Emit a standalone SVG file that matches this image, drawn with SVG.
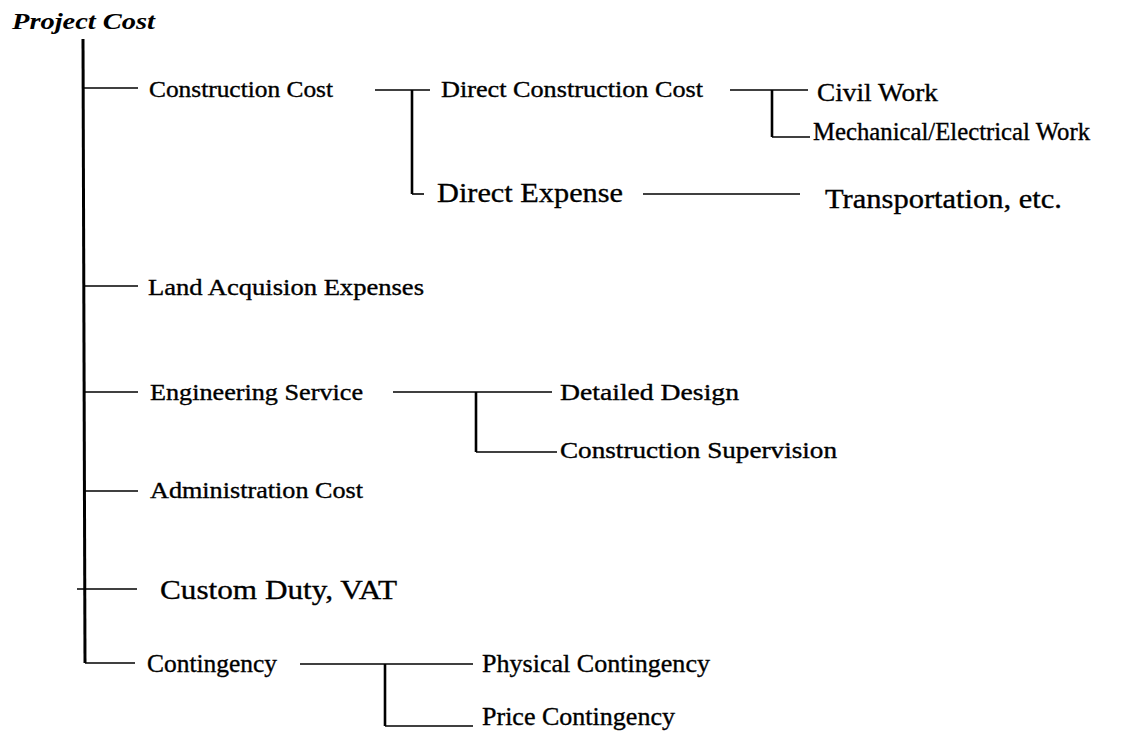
<svg xmlns="http://www.w3.org/2000/svg" width="1141" height="741" viewBox="0 0 1141 741">
  <style>
    .lbl { font-family: "Liberation Serif", "Times New Roman", serif; fill: #000; stroke: #000; stroke-width: 0.35; }
    .s22 { font-size: 23px; }
    .s25 { font-size: 25px; }
    .s28 { font-size: 28px; }
    .title { font-family: "Liberation Serif", "Times New Roman", serif; font-size: 24px; font-weight: bold; font-style: italic; fill: #000; }
    .trunk { stroke: #000; stroke-width: 3; fill: none; }
    .bracket { stroke: #000; stroke-width: 2.6; fill: none; }
    .link { stroke: #000; stroke-width: 1.6; fill: none; }
  </style>
  <rect width="1141" height="741" fill="#fff"/>

  <!-- tree connectors -->
  <g id="connectors">
    <!-- main trunk and first-level stubs -->
    <path class="trunk" d="M83 39 L85 663"/>
    <path class="link" d="M83 88 H138"/>
    <path class="link" d="M83 286 H138"/>
    <path class="link" d="M83 392 H138"/>
    <path class="link" d="M83 491 H138"/>
    <path class="link" d="M77 589 H137"/>
    <path class="link" d="M85 663 H135"/>
    <!-- construction cost branch -->
    <path class="link" d="M375 90 H430"/>
    <path class="bracket" d="M412 90 V194"/>
    <path class="link" d="M412 194 H424"/>
    <!-- direct construction cost branch -->
    <path class="link" d="M730 90 H808"/>
    <path class="bracket" d="M772 90 V137"/>
    <path class="link" d="M772 137 H810"/>
    <!-- direct expense -->
    <path class="link" d="M643 194 H800"/>
    <!-- engineering service branch -->
    <path class="link" d="M393 392 H552"/>
    <path class="bracket" d="M476 392 V452"/>
    <path class="link" d="M476 452 H557"/>
    <!-- contingency branch -->
    <path class="link" d="M300 664 H473"/>
    <path class="bracket" d="M385 664 V726"/>
    <path class="link" d="M385 726 H473"/>
  </g>

  <g id="project-cost"><text class="title" x="12" y="29" textLength="143" lengthAdjust="spacingAndGlyphs">Project Cost</text></g>
  <g id="construction-cost"><text class="lbl s22" x="149" y="97" textLength="184" lengthAdjust="spacingAndGlyphs">Construction Cost</text></g>
  <g id="direct-construction-cost"><text class="lbl s22" x="441" y="97" textLength="262" lengthAdjust="spacingAndGlyphs">Direct Construction Cost</text></g>
  <g id="civil-work"><text class="lbl s25" x="817" y="101" textLength="121" lengthAdjust="spacingAndGlyphs">Civil Work</text></g>
  <g id="mech-elec-work"><text class="lbl s25" x="813" y="140" textLength="277" lengthAdjust="spacingAndGlyphs">Mechanical/Electrical Work</text></g>
  <g id="direct-expense"><text class="lbl s28" x="437" y="202" textLength="186" lengthAdjust="spacingAndGlyphs">Direct Expense</text></g>
  <g id="transportation"><text class="lbl s28" x="825" y="208" textLength="237" lengthAdjust="spacingAndGlyphs">Transportation, etc.</text></g>
  <g id="land-acquisition"><text class="lbl s22" x="148" y="295" textLength="276" lengthAdjust="spacingAndGlyphs">Land Acquision Expenses</text></g>
  <g id="engineering-service"><text class="lbl s22" x="150" y="400" textLength="213" lengthAdjust="spacingAndGlyphs">Engineering Service</text></g>
  <g id="detailed-design"><text class="lbl s22" x="560" y="400" textLength="179" lengthAdjust="spacingAndGlyphs">Detailed Design</text></g>
  <g id="construction-supervision"><text class="lbl s22" x="560" y="458" textLength="277" lengthAdjust="spacingAndGlyphs">Construction Supervision</text></g>
  <g id="administration-cost"><text class="lbl s22" x="150" y="498" textLength="213" lengthAdjust="spacingAndGlyphs">Administration Cost</text></g>
  <g id="custom-duty-vat"><text class="lbl s28" x="160" y="599" textLength="237" lengthAdjust="spacingAndGlyphs">Custom Duty, VAT</text></g>
  <g id="contingency"><text class="lbl s25" x="147" y="672" textLength="130" lengthAdjust="spacingAndGlyphs">Contingency</text></g>
  <g id="physical-contingency"><text class="lbl s25" x="482" y="672" textLength="228" lengthAdjust="spacingAndGlyphs">Physical Contingency</text></g>
  <g id="price-contingency"><text class="lbl s25" x="482" y="725" textLength="193" lengthAdjust="spacingAndGlyphs">Price Contingency</text></g>
</svg>
